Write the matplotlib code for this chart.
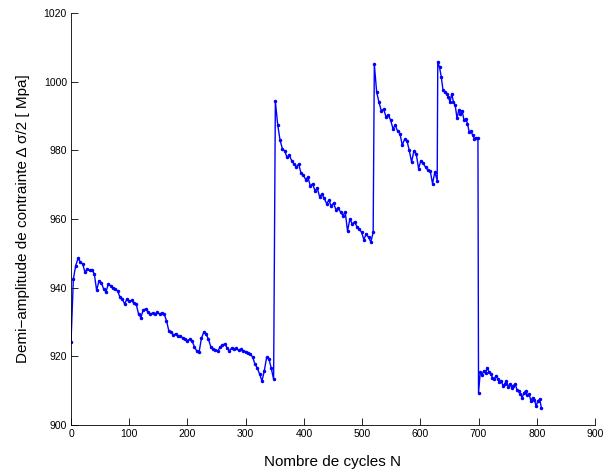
import numpy as np
import matplotlib
matplotlib.use("Agg")
import matplotlib.pyplot as plt

plt.rcParams['font.family'] = ['Liberation Sans', 'DejaVu Sans']

# Stress half-amplitude, one list per loading block
# (start cycle, step between readings, values in MPa)
seg1_start, seg1_step = 0, 4
seg1_vals = [924.3, 942.5, 946.4, 948.5, 947.5, 946.9, 944.5, 945.5, 945.0, 945.2,
             944.0, 939.2, 942.0, 941.5, 939.6, 938.8, 941.0, 940.6, 940.0, 939.5,
             939.1, 937.2, 936.8, 935.2, 936.7, 936.0, 936.3, 935.4, 935.2, 932.3,
             931.3, 933.5, 933.8, 933.0, 932.3, 932.6, 932.3, 932.8, 932.3, 932.6,
             932.3, 930.4, 927.4, 927.0, 926.2, 926.6, 925.8, 926.0, 925.3, 925.0,
             924.6, 925.0, 924.4, 922.8, 921.5, 921.2, 925.3, 927.0, 926.5, 925.0,
             922.8, 922.0, 921.8, 921.6, 922.6, 923.3, 923.6, 922.5, 921.6, 922.4,
             922.1, 922.3, 921.7, 922.0, 921.6, 921.4, 921.1, 920.6, 919.8, 917.7,
             916.6, 914.8, 912.8, 915.8, 919.7, 919.2, 916.5, 913.3]

seg2_start, seg2_step = 351, 4
seg2_vals = [994.3, 987.5, 983.0, 980.5, 979.8, 978.0, 978.6, 977.0, 976.0, 975.2,
             976.0, 973.4, 972.8, 971.5, 972.2, 969.6, 970.3, 968.2, 969.0, 966.5,
             967.3, 966.0, 964.5, 965.4, 963.8, 964.6, 962.7, 963.2, 962.0, 961.0,
             962.0, 956.5, 960.0, 958.5, 959.2, 957.8, 957.0, 956.2, 954.0, 955.6,
             954.7, 953.3, 956.1]

seg3_start, seg3_step = 521, 4
seg3_vals = [1005.0, 997.0, 994.0, 991.5, 992.0, 989.8, 990.3, 988.8, 986.3, 987.3,
             985.6, 984.9, 981.5, 983.2, 982.8, 980.0, 976.6, 979.8, 979.0, 974.7,
             977.0, 976.2, 975.1, 974.2, 974.0, 970.3, 973.7, 971.2]

seg4_start, seg4_step = 630, 3
seg4_vals = [1005.8, 1004.2, 1001.4, 997.5, 997.0, 996.5, 995.6, 994.1, 996.5, 994.0,
             993.1, 989.3, 991.7, 990.5, 991.4, 988.8, 989.2, 987.8, 985.3, 985.6,
             984.4, 983.4, 983.7, 983.5]

seg5_start, seg5_step = 700, 3
seg5_vals = [909.4, 915.3, 914.6, 915.8, 915.0, 916.7, 915.4, 914.9, 913.8, 913.3,
             914.4, 913.5, 912.4, 912.9, 911.4, 912.0, 912.9, 911.2, 911.8, 910.9,
             911.5, 911.9, 910.3, 909.9, 909.0, 908.0, 909.4, 909.9, 908.6, 909.0,
             907.0, 908.0, 907.3, 905.5, 907.0, 907.5, 905.0]

xticks = [0, 100, 200, 300, 400, 500, 600, 700, 800, 900]
yticks = [900, 920, 940, 960, 980, 1000, 1020]


def cycles(start, step, vals):
    return start + step * np.arange(len(vals))


segments = [(seg1_start, seg1_step, seg1_vals), (seg2_start, seg2_step, seg2_vals),
            (seg3_start, seg3_step, seg3_vals), (seg4_start, seg4_step, seg4_vals),
            (seg5_start, seg5_step, seg5_vals)]
N = np.concatenate([cycles(*s) for s in segments])
sigma = np.concatenate([np.array(s[2]) for s in segments])

fig = plt.figure(figsize=(6.05, 4.71), dpi=100)
ax = fig.add_axes([0.1174, 0.0977, 0.866, 0.8747])

ax.plot(N, sigma, '.-', color=(0, 0, 1), lw=1.0, ms=3)

ax.set_xlim(0, 900)
ax.set_ylim(900, 1020)
ax.set_xticks(xticks)
ax.set_yticks(yticks)
ax.tick_params(direction='in', length=5, width=0.6, labelsize=7.5, pad=3)
for side in ['top', 'right']:
    ax.spines[side].set_visible(False)
for side in ['left', 'bottom']:
    ax.spines[side].set_linewidth(0.6)

ax.set_xlabel('Nombre de cycles N', fontsize=11)
ax.set_ylabel('Demi\u2212amplitude de contrainte \u0394 \u03c3/2 [ Mpa]', fontsize=11)
ax.xaxis.set_label_coords(0.5, -0.072)
ax.yaxis.set_label_coords(-0.079, 0.5)

fig.savefig('out.png', dpi=100)
